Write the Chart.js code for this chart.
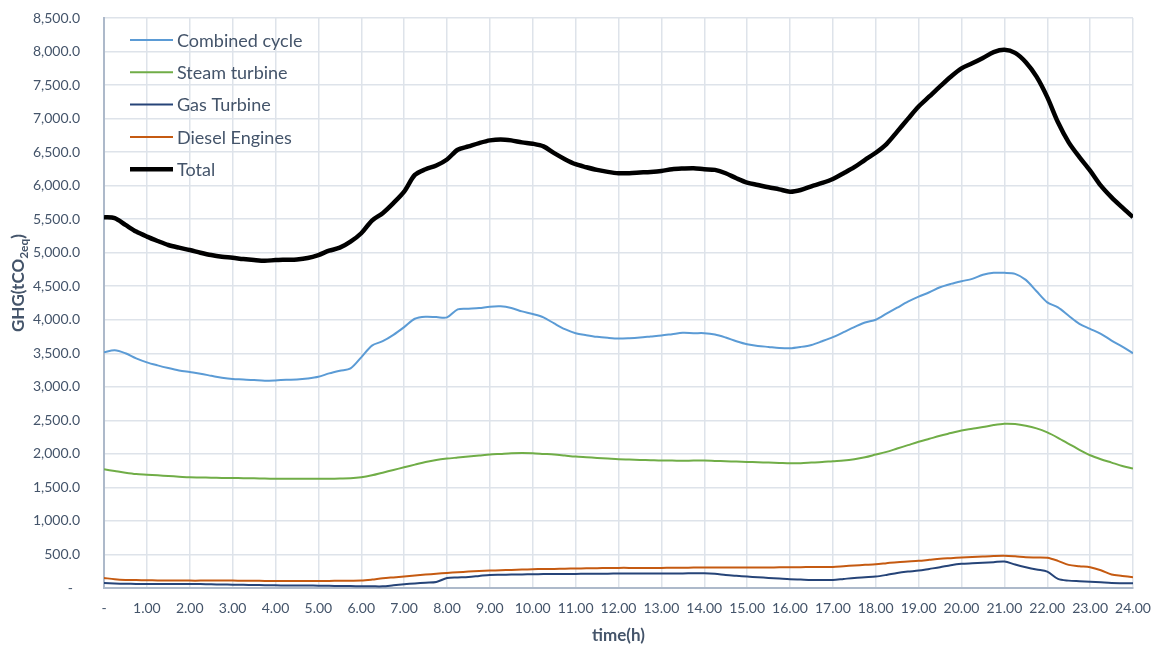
<!DOCTYPE html>
<html>
<head>
<meta charset="utf-8">
<script src="https://cdn.jsdelivr.net/npm/chart.js@4.4.1/dist/chart.umd.min.js"></script>
<style>
  html, body { margin: 0; padding: 0; background: #fff; }
</style>
</head>
<body>
<canvas id="myChart" width="1153" height="646"></canvas>
<script>
// time of day, every 15 minutes
const hours = Array.from({ length: 97 }, (_, i) => i / 4);

const combinedCycle = [
  3515, 3545, 3500, 3425, 3365, 3320, 3280, 3245, 3220, 3195, 3165, 3135,
  3115, 3110, 3100, 3090, 3095, 3105, 3110, 3125, 3150, 3200, 3240, 3275,
  3440, 3615, 3680, 3775, 3890, 4015, 4045, 4040, 4035, 4155, 4165, 4175,
  4195, 4200, 4175, 4125, 4085, 4035, 3945, 3860, 3800, 3770, 3745, 3730,
  3720, 3725, 3735, 3750, 3765, 3785, 3805, 3800, 3800, 3780, 3735, 3680,
  3635, 3610, 3595, 3580, 3575, 3595, 3625, 3680, 3740, 3815, 3890, 3960,
  4000, 4090, 4180, 4270, 4345, 4410, 4485, 4535, 4575, 4610, 4670, 4700,
  4700, 4685, 4595, 4425, 4260, 4185, 4060, 3940, 3865, 3790, 3690, 3600,
  3500
];
const steamTurbine = [
  1770, 1745, 1720, 1700, 1690, 1680, 1670, 1660, 1650, 1648, 1645, 1642,
  1640, 1638, 1635, 1632, 1630, 1630, 1630, 1630, 1630, 1630, 1632, 1635,
  1650, 1680, 1720, 1760, 1800, 1840, 1880, 1910, 1930, 1945, 1960, 1975,
  1990, 2000, 2010, 2012, 2010, 2000, 1990, 1975, 1960, 1950, 1940, 1930,
  1920, 1915, 1910, 1905, 1900, 1900, 1898, 1900, 1900, 1895, 1890, 1885,
  1880, 1875, 1870, 1865, 1860, 1862, 1870, 1878, 1890, 1900, 1920, 1950,
  1990, 2030, 2080, 2130, 2180, 2225, 2270, 2310, 2350, 2375, 2400, 2430,
  2450, 2445, 2420, 2380, 2320, 2240, 2150, 2060, 1980, 1920, 1870, 1820,
  1780
];
const gasTurbine = [
  75, 68, 63, 61, 60, 60, 60, 60, 60, 58, 55, 52,
  50, 48, 45, 42, 40, 38, 37, 36, 35, 32, 30, 28,
  25, 25, 25, 40, 55, 68, 80, 90, 150, 158, 165, 180,
  195, 198, 200, 203, 205, 207, 208, 209, 210, 212, 213, 214,
  215, 215, 215, 215, 215, 216, 218, 219, 220, 212, 195, 182,
  170, 160, 150, 140, 130, 125, 120, 120, 120, 135, 150, 160,
  170, 195, 225, 245, 260, 285, 310, 340, 360, 368, 375, 385,
  395, 350, 310, 275, 245, 135, 110, 102, 95, 85, 75, 72,
  70
];
const dieselEngines = [
  150, 130, 120, 118, 115, 113, 112, 111, 110, 110, 110, 110,
  110, 108, 107, 106, 105, 105, 105, 105, 105, 106, 107, 108,
  110, 125, 145, 158, 170, 185, 200, 212, 225, 235, 245, 252,
  260, 265, 270, 275, 280, 283, 285, 288, 290, 293, 295, 298,
  300, 300, 300, 300, 300, 302, 303, 304, 305, 305, 305, 305,
  305, 306, 307, 308, 310, 311, 312, 313, 315, 325, 335, 345,
  355, 370, 385, 395, 405, 420, 435, 445, 455, 462, 470, 477,
  480, 472, 460, 455, 450, 405, 345, 325, 310, 265, 200, 180,
  160
];
const total = [
  5530, 5515, 5415, 5315, 5240, 5175, 5115, 5075, 5040, 5000, 4965, 4940,
  4925, 4905, 4890, 4880, 4890, 4895, 4900, 4920, 4965, 5030, 5075, 5165,
  5290, 5480, 5590, 5740, 5910, 6160, 6245, 6300, 6390, 6535, 6585, 6635,
  6675, 6690, 6675, 6645, 6625, 6585, 6485, 6395, 6320, 6275, 6235, 6205,
  6185, 6185, 6195, 6205, 6220, 6245, 6255, 6260, 6245, 6235, 6185, 6110,
  6045, 6010, 5975, 5945, 5910, 5935, 5990, 6040, 6100, 6185, 6275, 6385,
  6490, 6620, 6805, 6995, 7180, 7330, 7480, 7625, 7750, 7825, 7905, 7990,
  8025, 7980, 7840, 7625, 7320, 6945, 6645, 6425, 6225, 6000, 5825, 5675,
  5530
];

const seriesNames = ["Combined cycle", "Steam turbine", "Gas Turbine", "Diesel Engines", "Total"];
const seriesColors = ["#5B9BD5", "#70AD47", "#264478", "#C55A11", "#000000"];
const seriesWidths = [2, 2, 2, 2, 4.5];
const seriesValues = [combinedCycle, steamTurbine, gasTurbine, dieselEngines, total];

const textColor = "#44546A";
const fontFamily = "Lato, 'Open Sans', sans-serif";

// legend drawn inside the plot, top-left
const insideLegend = {
  id: "insideLegend",
  afterDraw(chart) {
    const ctx = chart.ctx;
    ctx.save();
    chart.data.datasets.forEach((ds, i) => {
      const y = 40 + i * 32.3;
      ctx.strokeStyle = ds.borderColor;
      ctx.lineWidth = ds.borderWidth;
      ctx.beginPath();
      ctx.moveTo(130, y);
      ctx.lineTo(173, y);
      ctx.stroke();
      ctx.fillStyle = textColor;
      ctx.font = "18px " + fontFamily;
      ctx.textBaseline = "middle";
      ctx.textAlign = "left";
      ctx.fillText(ds.label, 177, y + 1);
    });
    ctx.restore();
  },
};

// y title with subscript
const yTitle = {
  id: "yTitle",
  afterDraw(chart) {
    const ctx = chart.ctx;
    ctx.save();
    ctx.translate(19, 283);
    ctx.rotate(-Math.PI / 2);
    ctx.fillStyle = textColor;
    ctx.textBaseline = "middle";
    ctx.textAlign = "left";
    const big = "bold 17px " + fontFamily;
    const small = "bold 12px " + fontFamily;
    ctx.font = big;
    const w1 = ctx.measureText("GHG(tCO").width;
    const w3 = ctx.measureText(")").width;
    ctx.font = small;
    const w2 = ctx.measureText("2eq").width;
    let x = -(w1 + w2 + w3) / 2;
    ctx.font = big;
    ctx.fillText("GHG(tCO", x, 0);
    x += w1;
    ctx.font = small;
    ctx.fillText("2eq", x, 5);
    x += w2;
    ctx.font = big;
    ctx.fillText(")", x, 0);
    ctx.restore();
  },
};

const ctx = document.getElementById("myChart");

new Chart(ctx, {
  type: "line",
  data: {
    datasets: seriesNames.map((name, i) => ({
      label: name,
      data: seriesValues[i].map((v, j) => ({ x: hours[j], y: v })),
      borderColor: seriesColors[i],
      backgroundColor: seriesColors[i],
      borderWidth: seriesWidths[i],
      pointRadius: 0,
      tension: 0.3,
      fill: false,
      order: seriesNames.length - i,
    })),
  },
  options: {
    responsive: false,
    animation: false,
    layout: {
      padding: { top: 18, right: 20, left: 0, bottom: 0 },
    },
    plugins: {
      legend: { display: false },
      tooltip: { enabled: false },
    },
    scales: {
      x: {
        type: "linear",
        min: 0,
        max: 24,
        afterFit: (scale) => { scale.height = 58; },
        ticks: {
          stepSize: 1,
          padding: 0,
          maxRotation: 0,
          autoSkip: false,
          color: textColor,
          font: { family: fontFamily, size: 14 },
          callback: (v) => (v === 0 ? "-" : v.toFixed(2)),
        },
        grid: { color: "#DEE3EA", lineWidth: 1.5, drawTicks: true, tickLength: 12, tickColor: "rgba(0,0,0,0)" },
        border: { color: "#ADB9CA", width: 2 },
        title: {
          display: true,
          text: "time(h)",
          color: textColor,
          font: { family: fontFamily, size: 17, weight: "bold" },
          padding: { top: 0, bottom: 0 },
        },
      },
      y: {
        min: 0,
        max: 8500,
        afterFit: (scale) => { scale.width = 104; },
        ticks: {
          stepSize: 500,
          padding: 2,
          color: textColor,
          font: { family: fontFamily, size: 14 },
          callback: (v) =>
            v === 0
              ? "-  "
              : v.toLocaleString("en-US", { minimumFractionDigits: 1, maximumFractionDigits: 1 }),
        },
        grid: { color: "#DEE3EA", lineWidth: 1.5, drawTicks: true, tickLength: 22, tickColor: "rgba(0,0,0,0)" },
        border: { color: "#ADB9CA", width: 2 },
      },
    },
  },
  plugins: [insideLegend, yTitle],
});
</script>
</body>
</html>
